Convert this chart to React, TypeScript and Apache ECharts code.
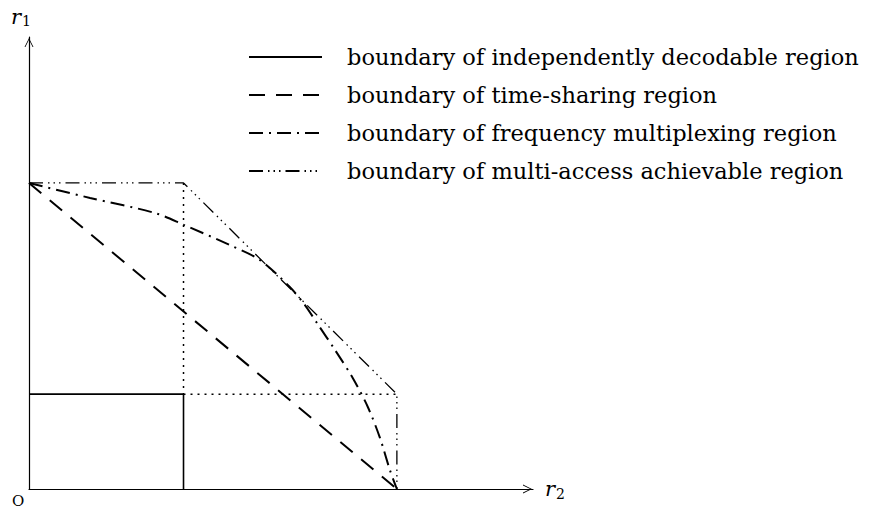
import React, { useEffect, useRef } from "react";
import * as echarts from "echarts";

// Axis extents (rate units); the axes run slightly past the largest rates.
const R2_AXIS_MAX = 13.7;
const R1_AXIS_MAX = 14.77;

// Boundary of the independently decodable region (r2, r1)
const independentR2 = [0, 4.2, 4.2];
const independentR1 = [3.1, 3.1, 0];

// Boundary of the time-sharing region
const timeSharingR2 = [0, 10];
const timeSharingR1 = [10, 0];

// Boundary of the frequency multiplexing region
const frequencyR2 = [0, 1.66, 3.42, 4.21, 5.46, 6.28, 7.09, 7.5, 7.83, 8.32, 8.8, 9.21, 9.54, 9.81, 10];
const frequencyR1 = [10, 9.51, 9.02, 8.63, 7.97, 7.48, 6.6, 6.01, 5.42, 4.54, 3.63, 2.68, 1.67, 0.62, 0];

// Boundary of the multi-access achievable region
const multiAccessR2 = [0, 4.2, 10, 10];
const multiAccessR1 = [10, 10, 3.1, 0];

// Dotted guide lines
const guideVerticalR2 = [4.2, 4.2];
const guideVerticalR1 = [10, 3.1];
const guideHorizontalR2 = [4.2, 10];
const guideHorizontalR1 = [3.1, 3.1];

const seriesNames = [
  "boundary of independently decodable region",
  "boundary of time-sharing region",
  "boundary of frequency multiplexing region",
  "boundary of multi-access achievable region",
];

const zip = (xs: number[], ys: number[]) => xs.map((x, i) => [x, ys[i]]);

const SERIF = "'DejaVu Serif', 'Liberation Serif', serif";
const INK = "#000";

// Open chevron arrow head, drawn pointing up (axis symbols get rotated)
const ARROW = "path://M0,10 L5,0 L10,10 L9,10 L5,2 L1,10 Z";

const axisName = (sub: string) => `{r|r}{s|${sub}}`;
const nameRich = {
  r: { fontFamily: SERIF, fontStyle: "italic", fontSize: 21, color: INK },
  s: { fontFamily: SERIF, fontSize: 14, color: INK, padding: [9, 0, 0, 1] },
};

const axisCommon = {
  type: "value" as const,
  min: 0,
  axisTick: { show: false },
  axisLabel: { show: false },
  splitLine: { show: false },
  axisLine: {
    show: true,
    onZero: false,
    symbol: ["none", ARROW],
    symbolSize: [9, 11],
    symbolOffset: [0, -5.5],
    lineStyle: { color: INK, width: 1.2 },
  },
};

export default function App() {
  const ref = useRef<HTMLDivElement>(null);

  useEffect(() => {
    if (!ref.current) return;
    const chart = echarts.init(ref.current, null, { renderer: "svg" });

    const lineSeries = (name: string, data: number[][], type: any, width: number, smooth: any = false) => ({
      name,
      type: "line",
      data,
      symbol: "none",
      showSymbol: false,
      smooth,
      silent: true,
      lineStyle: { color: INK, width, type },
      itemStyle: { color: INK },
      z: 3,
    });

    chart.setOption({
      animation: false,
      backgroundColor: "#fff",
      grid: { left: 29, right: 336, top: 37, bottom: 20, containLabel: false, outerBoundsMode: "none" },
      xAxis: {
        ...axisCommon,
        max: R2_AXIS_MAX,
        name: axisName("2"),
        nameLocation: "end",
        nameGap: 12,
        nameTextStyle: { rich: nameRich, verticalAlign: "middle" },
      },
      yAxis: {
        ...axisCommon,
        max: R1_AXIS_MAX,
        name: axisName("1"),
        nameLocation: "end",
        nameGap: 9,
        nameTextStyle: { rich: nameRich, align: "center", padding: [0, 16, 0, 0] },
      },
      legend: {
        data: seriesNames,
        orient: "vertical",
        left: 243,
        top: 40,
        itemWidth: 73,
        itemHeight: 14,
        itemGap: 14,
        selectedMode: false,
        itemStyle: { opacity: 0 },
        textStyle: { fontFamily: SERIF, fontSize: 22.5, color: INK, lineHeight: 24, padding: [0, 0, 0, 20] },
      },
      graphic: [
        {
          type: "text",
          left: 12,
          top: 493,
          style: { text: "O", font: `15px ${SERIF}`, fill: INK },
        },
      ],
      series: [
        lineSeries(seriesNames[0], zip(independentR2, independentR1), "solid", 1.6),
        lineSeries(seriesNames[1], zip(timeSharingR2, timeSharingR1), [16, 11], 2),
        lineSeries(seriesNames[2], zip(frequencyR2, frequencyR1), [14, 6, 2, 6], 2, 0.3),
        lineSeries(seriesNames[3], zip(multiAccessR2, multiAccessR1), [14, 5, 1.5, 4, 1.5, 4, 1.5, 5], 1.3),
        {
          ...lineSeries("guide-v", zip(guideVerticalR2, guideVerticalR1), [2, 5], 1.5),
          z: 2,
        },
        {
          ...lineSeries("guide-h", zip(guideHorizontalR2, guideHorizontalR1), [2, 5], 1.5),
          z: 2,
        },
      ],
    });

    return () => chart.dispose();
  }, []);

  return <div ref={ref} style={{ width: 869, height: 509, position: "absolute", left: 0, top: 0 }} />;
}
